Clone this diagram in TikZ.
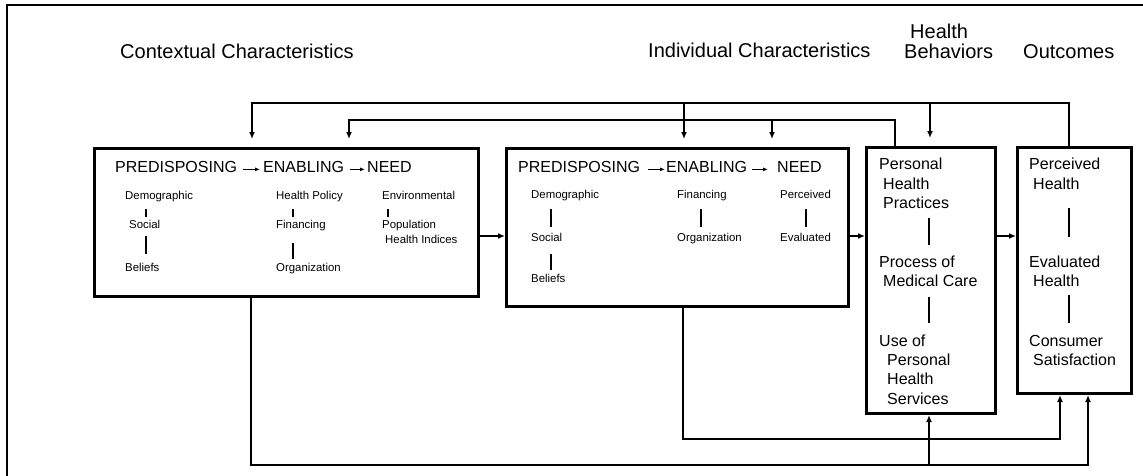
\documentclass[tikz,border=0pt]{standalone}
\usepackage{fontspec}
\setmainfont{Liberation Sans}
\usetikzlibrary{arrows.meta}
\tikzset{
  box/.style={draw, line width=3pt},
  txt/.style={inner sep=0pt, anchor=base west},
  big/.style={txt, font=\fontsize{20}{24}\selectfont},
  hd/.style={txt, font=\fontsize{16}{19}\selectfont},
  sm/.style={txt, font=\fontsize{11.4}{13}\selectfont},
  md/.style={txt, font=\fontsize{16}{19}\selectfont},
  conn/.style={line width=1.5pt, -{Latex[length=7pt,width=6pt]}},
  connb/.style={line width=2pt, -{Latex[length=7pt,width=6pt]}},
  hdarrow/.style={line width=1pt, -{Latex[length=5pt,width=4pt]}},
  tick/.style={line width=1.5pt},
  tickb/.style={line width=2pt}
}
\begin{document}
\begin{tikzpicture}[x=1pt,y=-1pt]
\useasboundingbox (0,0) rectangle (1143,475);
% frame
\draw[line width=2pt] (7,490) -- (7,5) -- (1160,5);

% headings
\node[big] (hc) at (120,58) {Contextual Characteristics};
\node[big] (hi) at (648,57) {Individual Characteristics};
\node[big] (hb1) at (910,38) {Health};
\node[big] (hb2) at (904,58) {Behaviors};
\node[big] (ho) at (1023,58) {Outcomes};

% boxes
\node[box, minimum width=384pt, minimum height=148pt] (b1) at (286.5,222.5) {};
\node[box, minimum width=342pt, minimum height=158pt] (b2) at (677.5,227.5) {};
\node[box, minimum width=129pt, minimum height=266pt] (b3) at (931,280.5) {};
\node[box, minimum width=114pt, minimum height=246pt] (b4) at (1074.5,270.5) {};

% box 1 header
\node[hd] (p1) at (115,172) {PREDISPOSING};
\node[hd] (e1) at (263,172) {ENABLING};
\node[hd] (n1) at (367,172) {NEED};
\draw[hdarrow, shorten <=6pt, shorten >=3pt] (p1.mid east) -- (e1.mid west);
\draw[hdarrow, shorten <=6pt, shorten >=2pt] (e1.mid east) -- (n1.mid west);

% box 1 content
\node[sm] (c1a) at (125,199) {Demographic};
\node[sm] (c1b) at (129,228) {Social};
\node[sm] (c1c) at (125,271) {Beliefs};
\node[sm] (c2a) at (276,199) {Health Policy};
\node[sm] (c2b) at (276,228) {Financing};
\node[sm] (c2c) at (276,271) {Organization};
\node[sm] (c3a) at (382,199) {Environmental};
\node[sm] (c3b) at (382,228) {Population};
\node[sm] (c3c) at (385,243) {Health Indices};
\draw[tick] (146,209) -- (146,217);
\draw[tick] (146,236) -- (146,254);
\draw[tick] (293,209) -- (293,217);
\draw[tick] (293,243) -- (293,259);
\draw[tick] (388,209) -- (388,217);

% box 2 header
\node[hd] (p2) at (518,172) {PREDISPOSING};
\node[hd] (e2) at (666,172) {ENABLING};
\node[hd] (n2) at (777,172) {NEED};
\draw[hdarrow, shorten <=8pt, shorten >=1pt] (p2.mid east) -- (e2.mid west);
\draw[hdarrow, shorten <=5pt, shorten >=9pt] (e2.mid east) -- (n2.mid west);

% box 2 content
\node[sm] (i1a) at (531,198) {Demographic};
\node[sm] (i1b) at (531,241) {Social};
\node[sm] (i1c) at (531,282) {Beliefs};
\node[sm] (i2a) at (677,198) {Financing};
\node[sm] (i2b) at (677,241) {Organization};
\node[sm] (i3a) at (780,198) {Perceived};
\node[sm] (i3b) at (780,241) {Evaluated};
\draw[tick] (551,209) -- (551,227);
\draw[tick] (551,254) -- (551,270);
\draw[tick] (701,209) -- (701,227);
\draw[tick] (806,209) -- (806,227);

% box 3 content
\node[md] (h1a) at (879,169) {Personal};
\node[md] (h1b) at (883,189) {Health};
\node[md] (h1c) at (883,208) {Practices};
\node[md] (h2a) at (879,267) {Process of};
\node[md] (h2b) at (883,286) {Medical Care};
\node[md] (h3a) at (879,346) {Use of};
\node[md] (h3b) at (887,365) {Personal};
\node[md] (h3c) at (887,384) {Health};
\node[md] (h3d) at (887,404) {Services};
\draw[tickb] (929,218) -- (929,245);
\draw[tickb] (929,297) -- (929,323);

% box 4 content
\node[md] (o1a) at (1029,169) {Perceived};
\node[md] (o1b) at (1033,189) {Health};
\node[md] (o2a) at (1029,267) {Evaluated};
\node[md] (o2b) at (1033,286) {Health};
\node[md] (o3a) at (1029,346) {Consumer};
\node[md] (o3b) at (1033,365) {Satisfaction};
\draw[tickb] (1069,208) -- (1069,237);
\draw[tickb] (1069,295) -- (1069,323);

% horizontal flow arrows
\coordinate (mid) at (0,236);
\draw[conn] (b1.east |- mid) -- (b2.west |- mid);
\draw[conn] (b2.east |- mid) -- (b3.west |- mid);
\draw[conn] (b3.east |- mid) -- (b4.west |- mid);

% top feedback lines
\coordinate (u1) at (252,103);
\coordinate (u2) at (684,103);
\coordinate (u3) at (930,103);
\coordinate (u0) at (1069,103);
\draw[connb, shorten >=8pt] (b4.north -| u0) -- (u0) -- (u1) -- (b1.north -| u1);
\draw[connb, shorten >=8pt] (u2) -- (b2.north -| u2);
\draw[connb, shorten >=8pt] (u3) -- (b3.north -| u3);

\coordinate (v0) at (895,120);
\coordinate (v1) at (349,120);
\coordinate (v2) at (772,120);
\draw[conn, shorten >=8pt] (b3.north -| v0) -- (v0) -- (v1) -- (b1.north -| v1);
\draw[conn, shorten >=8pt] (v2) -- (b2.north -| v2);

% bottom lines
\coordinate (w0) at (251,465);
\coordinate (w1) at (1088,465);
\coordinate (w2) at (929,465);
\draw[conn] (b1.south -| w0) -- (w0) -- (w1) -- (b4.south -| w1);
\draw[conn] (w2) -- (b3.south -| w2);

\coordinate (x0) at (683,439);
\coordinate (x1) at (1060,439);
\draw[conn] (b2.south -| x0) -- (x0) -- (x1) -- (b4.south -| x1);
\end{tikzpicture}
\end{document}
